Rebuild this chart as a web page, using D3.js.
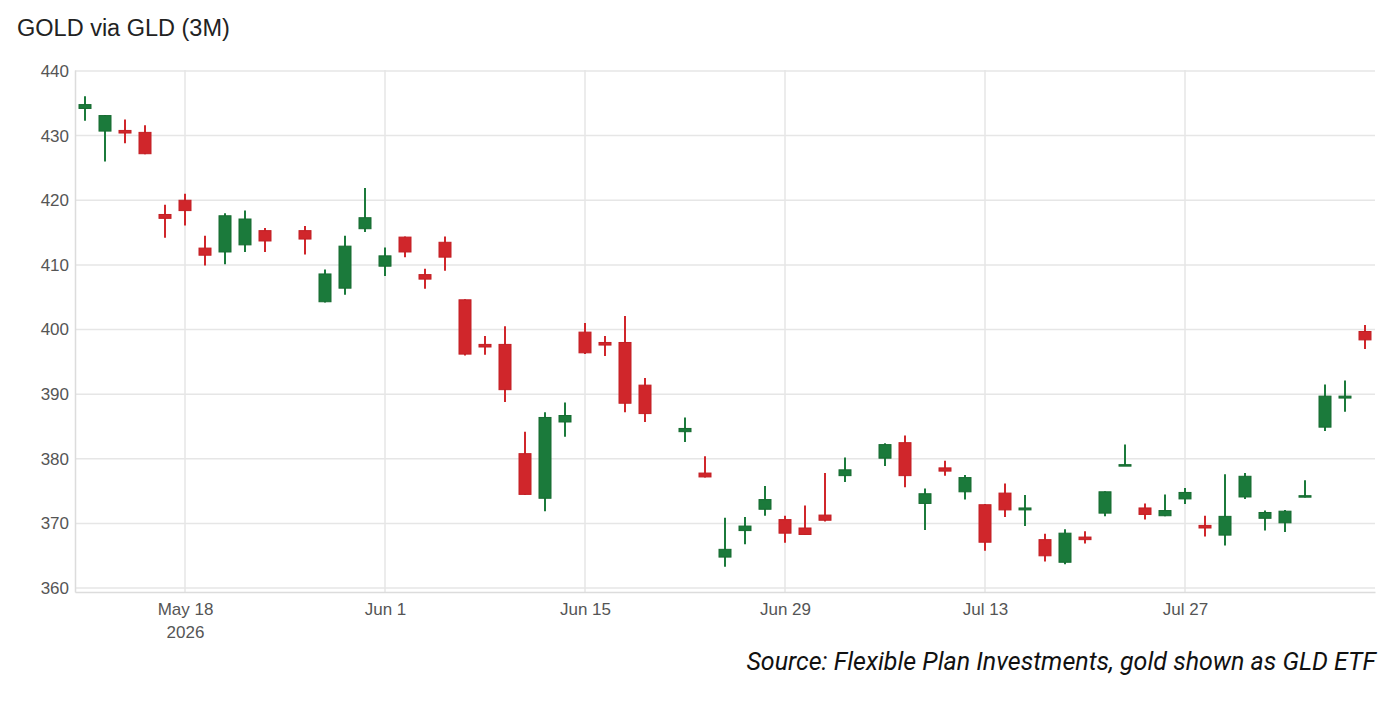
<!DOCTYPE html>
<html>
<head>
<meta charset="utf-8">
<script src="https://cdn.jsdelivr.net/npm/d3@7"></script>
<style>
  html, body { margin: 0; padding: 0; background: #fff; }
  svg { display: block; }
</style>
</head>
<body>
<svg id="chart"></svg>
<script>
// trading days (holidays May 25, Jun 19, Jul 3 are simply missing)
const dates = [
  "2026-05-11","2026-05-12","2026-05-13","2026-05-14","2026-05-15",
  "2026-05-18","2026-05-19","2026-05-20","2026-05-21","2026-05-22",
  "2026-05-26","2026-05-27","2026-05-28","2026-05-29",
  "2026-06-01","2026-06-02","2026-06-03","2026-06-04","2026-06-05",
  "2026-06-08","2026-06-09","2026-06-10","2026-06-11","2026-06-12",
  "2026-06-15","2026-06-16","2026-06-17","2026-06-18",
  "2026-06-22","2026-06-23","2026-06-24","2026-06-25","2026-06-26",
  "2026-06-29","2026-06-30","2026-07-01","2026-07-02",
  "2026-07-06","2026-07-07","2026-07-08","2026-07-09","2026-07-10",
  "2026-07-13","2026-07-14","2026-07-15","2026-07-16","2026-07-17",
  "2026-07-20","2026-07-21","2026-07-22","2026-07-23","2026-07-24",
  "2026-07-27","2026-07-28","2026-07-29","2026-07-30","2026-07-31",
  "2026-08-03","2026-08-04","2026-08-05","2026-08-06","2026-08-07"
];
const open = [
  434.2,430.7,430.8,430.5,417.8,
  420.0,412.6,412.0,413.1,415.3,
  415.3,404.3,406.4,415.6,
  409.8,414.3,408.5,413.5,404.6,
  397.7,397.7,380.8,373.9,385.7,
  399.6,398.0,398.0,391.4,
  384.2,377.8,364.8,368.9,372.2,
  370.6,369.3,371.3,377.4,
  380.1,382.5,373.1,378.6,374.9,
  372.9,374.7,372.1,367.5,364.0,
  367.9,371.6,378.9,372.4,371.2,
  373.8,369.7,368.2,374.1,370.8,
  370.1,374.1,384.9,389.4,399.7
];
const high = [
  436.1,433.2,432.5,431.6,419.3,
  421.0,414.5,418.0,418.4,415.7,
  416.0,409.3,414.5,421.9,
  412.7,414.4,409.4,414.4,404.7,
  399.0,400.5,384.2,387.2,388.7,
  401.0,399.0,402.1,392.5,
  386.4,380.4,370.9,371.0,375.8,
  371.2,372.8,377.8,380.2,
  382.4,383.6,375.4,379.7,377.5,
  373.0,376.2,374.4,368.4,369.1,
  368.8,375.0,382.2,373.1,374.5,
  375.5,371.2,377.6,377.8,372.0,
  372.1,376.7,391.5,392.1,400.7
];
const low = [
  432.3,426.0,428.8,427.1,414.2,
  416.1,409.9,410.1,412.0,412.0,
  411.6,404.2,405.4,415.1,
  408.3,411.2,406.3,409.1,396.0,
  396.1,388.8,374.4,371.9,383.4,
  396.2,395.9,387.2,385.7,
  382.6,377.1,363.3,366.8,371.2,
  367.0,368.2,370.3,376.4,
  378.9,375.6,369.0,377.4,373.7,
  365.8,371.0,369.6,364.1,363.7,
  366.9,371.1,378.9,370.6,371.1,
  373.0,368.0,366.6,373.8,368.9,
  368.7,374.0,384.3,387.3,397.0
];
const close = [
  434.8,433.1,430.4,427.2,417.2,
  418.4,411.5,417.6,417.1,413.7,
  414.0,408.6,412.9,417.3,
  411.4,412.0,407.8,411.2,396.2,
  397.3,390.7,374.5,386.4,386.7,
  396.4,397.6,388.6,387.0,
  384.7,377.2,366.0,369.6,373.7,
  368.5,368.3,370.5,378.3,
  382.2,377.4,374.6,378.1,377.1,
  367.1,372.1,372.4,365.0,368.5,
  367.5,374.9,379.1,371.4,372.0,
  374.8,369.3,371.1,377.3,371.7,
  371.9,374.3,389.7,389.7,398.4
];
const yTicks = [360, 370, 380, 390, 400, 410, 420, 430, 440];
const xTickDates = ["2026-05-18","2026-06-01","2026-06-15","2026-06-29","2026-07-13","2026-07-27"];
const xTickLabels = [["May 18","2026"],["Jun 1"],["Jun 15"],["Jun 29"],["Jul 13"],["Jul 27"]];

const width = 1400, height = 706;
const plot = { left: 75, right: 1375, top: 70, bottom: 592 };
const UP = "#1b7a3b", DOWN = "#d0262b";

const svg = d3.select("#chart").attr("width", width).attr("height", height);

// business-day index: weekends are removed from the axis, holidays leave gaps
const start = Date.UTC(2026, 4, 11);
function dayIndex(s) {
    const p = s.split("-").map(Number);
    const d = Math.round((Date.UTC(p[0], p[1] - 1, p[2]) - start) / 86400000);
    return Math.floor(d / 7) * 5 + (d % 7);
}

const candles = dates.map((d, i) => ({
    idx: dayIndex(d), o: open[i], h: high[i], l: low[i], c: close[i]
}));

const x = d3.scaleLinear().domain([-0.5, 64.5]).range([plot.left, plot.right]);
const y = d3.scaleLinear().domain([359.4, 440.15]).range([plot.bottom, plot.top]);

// horizontal gridlines
svg.append("g")
    .selectAll("line")
    .data(yTicks)
    .enter().append("line")
    .attr("x1", plot.left).attr("x2", plot.right)
    .attr("y1", d => y(d)).attr("y2", d => y(d))
    .attr("stroke", "#e6e6e6").attr("stroke-width", 1.5);

// vertical gridlines
svg.append("g")
    .selectAll("line")
    .data(xTickDates)
    .enter().append("line")
    .attr("x1", d => x(dayIndex(d))).attr("x2", d => x(dayIndex(d)))
    .attr("y1", plot.top).attr("y2", plot.bottom)
    .attr("stroke", "#e6e6e6").attr("stroke-width", 1.5);

// y axis
const yAxis = d3.axisLeft(y).tickValues(yTicks).tickSize(0).tickPadding(6);
const gy = svg.append("g")
    .attr("transform", `translate(${plot.left},0)`)
    .call(yAxis);
gy.select(".domain").attr("stroke", "#dcdcdc").attr("stroke-width", 1.5);
gy.selectAll("text")
    .style("font-family", "'Liberation Sans', Arial, sans-serif")
    .style("font-size", "17px")
    .attr("fill", "#555");

// x axis
const xAxis = d3.axisBottom(x)
    .tickValues(xTickDates.map(dayIndex))
    .tickSize(0)
    .tickFormat("");
const gx = svg.append("g")
    .attr("transform", `translate(0,${plot.bottom})`)
    .call(xAxis);
gx.select(".domain").attr("stroke", "#dcdcdc").attr("stroke-width", 1.5);
gx.selectAll(".tick").each(function (d, i) {
    const t = d3.select(this).append("text")
        .attr("fill", "#555")
        .attr("text-anchor", "middle")
        .style("font-family", "'Liberation Sans', Arial, sans-serif")
        .style("font-size", "17px");
    xTickLabels[i].forEach((s, k) => {
        t.append("tspan").attr("x", 0).attr("y", 23 + k * 23).text(s);
    });
});

// candles
const bw = 12;
const g = svg.append("g");
const c = g.selectAll("g.candle")
    .data(candles)
    .enter().append("g")
    .attr("class", "candle");

c.append("line")
    .attr("x1", d => x(d.idx)).attr("x2", d => x(d.idx))
    .attr("y1", d => y(d.h)).attr("y2", d => y(d.l))
    .attr("stroke", d => d.c >= d.o ? UP : DOWN)
    .attr("stroke-width", 2);

c.append("rect")
    .attr("x", d => x(d.idx) - bw / 2)
    .attr("width", bw)
    .attr("y", d => y(Math.max(d.o, d.c)))
    .attr("height", d => Math.max(1.5, Math.abs(y(d.o) - y(d.c))))
    .attr("fill", d => d.c >= d.o ? UP : DOWN)
    .attr("stroke", d => d.c >= d.o ? "#166b31" : "#c21f24")
    .attr("stroke-width", 1);

// title
svg.append("text")
    .attr("x", 17).attr("y", 36)
    .attr("fill", "#222")
    .style("font-family", "'Liberation Sans', Arial, sans-serif")
    .style("font-size", "23.5px")
    .text("GOLD via GLD (3M)");

// source note
svg.append("text")
    .attr("x", 1376).attr("y", 670)
    .attr("text-anchor", "end")
    .attr("fill", "#111")
    .style("font-family", "Roboto, sans-serif")
    .style("font-style", "italic")
    .style("font-size", "25px")
    .text("Source: Flexible Plan Investments, gold shown as GLD ETF");
</script>
</body>
</html>
